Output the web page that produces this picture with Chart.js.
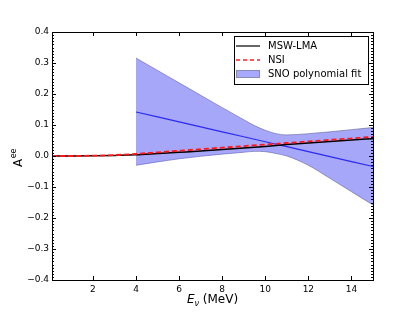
<!DOCTYPE html>
<html>
<head>
<meta charset="utf-8">
<script src="https://cdn.jsdelivr.net/npm/chart.js@4/dist/chart.umd.min.js"></script>
<style>
html,body{margin:0;padding:0;background:#fff;}
#wrap{width:415px;height:312px;}
</style>
</head>
<body>
<div id="wrap"><canvas id="c" width="415" height="312"></canvas></div>
<script>
// ---- data ----
const energyGrid = [0.1, 1, 2, 3, 4, 5, 6, 7, 8, 9, 10, 11, 12, 13, 14, 15];
const mswLma     = [0, 0, 0.0005, 0.002, 0.004, 0.008, 0.012, 0.016, 0.021, 0.026, 0.031, 0.037, 0.042, 0.047, 0.052, 0.056];
const nsi        = [0, 0, 0.001, 0.003, 0.007, 0.012, 0.017, 0.022, 0.027, 0.032, 0.037, 0.042, 0.047, 0.052, 0.057, 0.062];

const snoEnergy  = [4, 5, 6, 7, 8, 9, 9.5, 10, 10.5, 11, 12, 13, 14, 15];
const snoUpper   = [0.316, 0.276, 0.236, 0.196, 0.156, 0.117, 0.098, 0.083, 0.072, 0.068, 0.072, 0.078, 0.085, 0.092];
const snoLower   = [-0.03, -0.019, -0.009, -0.001, 0.006, 0.012, 0.015, 0.014, 0.008, 0.0, -0.03, -0.072, -0.115, -0.158];
const snoCentral = [0.142, 0.126, 0.110, 0.094, 0.078, 0.062, 0.054, 0.046, 0.038, 0.030, 0.014, -0.002, -0.018, -0.034];

const xTicks = [2, 4, 6, 8, 10, 12, 14];
const yTicks = [-0.4, -0.3, -0.2, -0.1, 0.0, 0.1, 0.2, 0.3, 0.4];
const labels = {msw: 'MSW-LMA', nsi: 'NSI', sno: 'SNO polynomial fit'};

const pts = (xs, ys) => xs.map((x, i) => ({x: x, y: ys[i]}));
const FONT = '"DejaVu Sans", sans-serif';

const framePlugin = {
  id: 'frame',
  afterDatasetsDraw(chart) {
    const {ctx, chartArea: a, scales} = chart;
    const xs = scales.x, ys = scales.y;
    ctx.save();
    ctx.strokeStyle = '#000';
    ctx.lineWidth = 1;
    // ticks
    ctx.beginPath();
    xTicks.forEach(v => {
      const px = Math.round(xs.getPixelForValue(v)) + 0.5;
      ctx.moveTo(px, a.bottom); ctx.lineTo(px, a.bottom - 4);
      ctx.moveTo(px, a.top); ctx.lineTo(px, a.top + 4);
    });
    yTicks.forEach(v => {
      const py = Math.round(ys.getPixelForValue(v)) + 0.5;
      ctx.moveTo(a.left, py); ctx.lineTo(a.left + 4, py);
      ctx.moveTo(a.right, py); ctx.lineTo(a.right - 4, py);
    });
    for (let k = -40; k <= 40; k++) {
      if (k % 10 === 0) continue;
      const py = Math.round(ys.getPixelForValue(k / 100)) + 0.5;
      ctx.moveTo(a.left, py); ctx.lineTo(a.left + 2, py);
      ctx.moveTo(a.right, py); ctx.lineTo(a.right - 2, py);
    }
    ctx.stroke();
    ctx.strokeRect(Math.round(a.left) + 0.5, Math.round(a.top) + 0.5,
                   Math.round(a.right - a.left), Math.round(a.bottom - a.top));

    // legend
    const lx = 234.5, ly = 36.5, lw = 134, lh = 48;
    ctx.fillStyle = '#fff';
    ctx.fillRect(lx, ly, lw, lh);
    ctx.strokeStyle = '#000';
    ctx.strokeRect(lx, ly, lw, lh);
    ctx.font = '10px ' + FONT;
    ctx.textBaseline = 'middle';
    ctx.textAlign = 'left';
    const rows = [46, 60, 74];
    ctx.beginPath(); ctx.lineWidth = 1.2; ctx.strokeStyle = '#000';
    ctx.moveTo(236, rows[0]); ctx.lineTo(260, rows[0]); ctx.stroke();
    ctx.beginPath(); ctx.setLineDash([4, 3]); ctx.lineWidth = 1.5; ctx.strokeStyle = '#ff2020';
    ctx.moveTo(236, rows[1]); ctx.lineTo(260, rows[1]); ctx.stroke();
    ctx.setLineDash([]);
    ctx.fillStyle = '#a8a8fc';
    ctx.fillRect(236, rows[2] - 4, 24, 8);
    ctx.lineWidth = 1; ctx.strokeStyle = '#8a8ab0';
    ctx.strokeRect(236.5, rows[2] - 3.5, 23, 7);
    ctx.fillStyle = '#000';
    ctx.fillText(labels.msw, 268, rows[0]);
    ctx.fillText(labels.nsi, 268, rows[1]);
    ctx.fillText(labels.sno, 268, rows[2]);

    // y axis title: A^ee
    ctx.save();
    ctx.translate(22, (a.top + a.bottom) / 2 + 2);
    ctx.rotate(-Math.PI / 2);
    ctx.textBaseline = 'alphabetic';
    ctx.textAlign = 'left';
    ctx.font = '12px ' + FONT;
    const wA = ctx.measureText('A').width;
    ctx.font = '8px ' + FONT;
    const wE = ctx.measureText('ee').width;
    const x0 = -(wA + wE) / 2;
    ctx.font = '12px ' + FONT;
    ctx.fillText('A', x0, 0);
    ctx.font = '8px ' + FONT;
    ctx.fillText('ee', x0 + wA + 0.5, -6);
    ctx.restore();

    // x axis title: E_nu (MeV)
    ctx.textBaseline = 'alphabetic';
    ctx.textAlign = 'left';
    ctx.font = 'italic 12px ' + FONT;
    const wE2 = ctx.measureText('E').width;
    ctx.font = 'italic 8px ' + FONT;
    const wNu = ctx.measureText('ν').width;
    ctx.font = '12px ' + FONT;
    const wRest = ctx.measureText(' (MeV)').width;
    let tx = (a.left + a.right) / 2 - (wE2 + wNu + wRest) / 2;
    const ty = 303;
    ctx.font = 'italic 12px ' + FONT;
    ctx.fillText('E', tx, ty);
    tx += wE2;
    ctx.font = 'italic 8px ' + FONT;
    ctx.fillText('ν', tx, ty + 3);
    tx += wNu;
    ctx.font = '12px ' + FONT;
    ctx.fillText(' (MeV)', tx, ty);
    ctx.restore();
  }
};

new Chart(document.getElementById('c'), {
  type: 'line',
  data: {
    datasets: [
      {
        label: labels.sno + ' lower',
        data: pts(snoEnergy, snoLower),
        borderColor: 'rgba(90,90,140,0.55)',
        borderWidth: 1,
        pointRadius: 0,
        fill: false,
        cubicInterpolationMode: 'monotone',
        order: 5
      },
      {
        label: labels.sno,
        data: pts(snoEnergy, snoUpper),
        borderColor: 'rgba(90,90,140,0.55)',
        backgroundColor: 'rgba(80,80,245,0.5)',
        borderWidth: 1,
        pointRadius: 0,
        fill: '-1',
        cubicInterpolationMode: 'monotone',
        order: 4
      },
      {
        label: labels.sno + ' central',
        data: pts(snoEnergy, snoCentral),
        borderColor: '#2a2aff',
        borderWidth: 1.2,
        pointRadius: 0,
        fill: false,
        order: 3
      },
      {
        label: labels.msw,
        data: pts(energyGrid, mswLma),
        borderColor: '#000',
        borderWidth: 1.5,
        pointRadius: 0,
        fill: false,
        cubicInterpolationMode: 'monotone',
        order: 2
      },
      {
        label: labels.nsi,
        data: pts(energyGrid, nsi),
        borderColor: '#ff1a1a',
        borderWidth: 1.8,
        borderDash: [5, 3],
        pointRadius: 0,
        fill: false,
        cubicInterpolationMode: 'monotone',
        order: 1
      }
    ]
  },
  options: {
    responsive: false,
    animation: false,
    events: [],
    layout: {padding: {left: 0, right: 42, top: 32, bottom: 0}},
    plugins: {legend: {display: false}, tooltip: {enabled: false}, title: {display: false}},
    scales: {
      x: {
        type: 'linear',
        min: 0.1,
        max: 15,
        afterBuildTicks: s => { s.ticks = xTicks.map(v => ({value: v})); },
        afterFit: s => { s.height = 32; },
        grid: {display: false, drawTicks: false},
        border: {display: false},
        ticks: {
          color: '#000',
          font: {family: FONT, size: 9},
          padding: 4,
          maxRotation: 0,
          callback: v => String(v)
        }
      },
      y: {
        type: 'linear',
        min: -0.4,
        max: 0.4,
        afterBuildTicks: s => { s.ticks = yTicks.map(v => ({value: v})); },
        afterFit: s => { s.width = 52; },
        grid: {display: false, drawTicks: false},
        border: {display: false},
        ticks: {
          color: '#000',
          font: {family: FONT, size: 9},
          padding: 3,
          callback: v => (v < 0 ? '\u2212' : '') + Math.abs(v).toFixed(1)
        }
      }
    }
  },
  plugins: [framePlugin]
});
</script>
</body>
</html>
